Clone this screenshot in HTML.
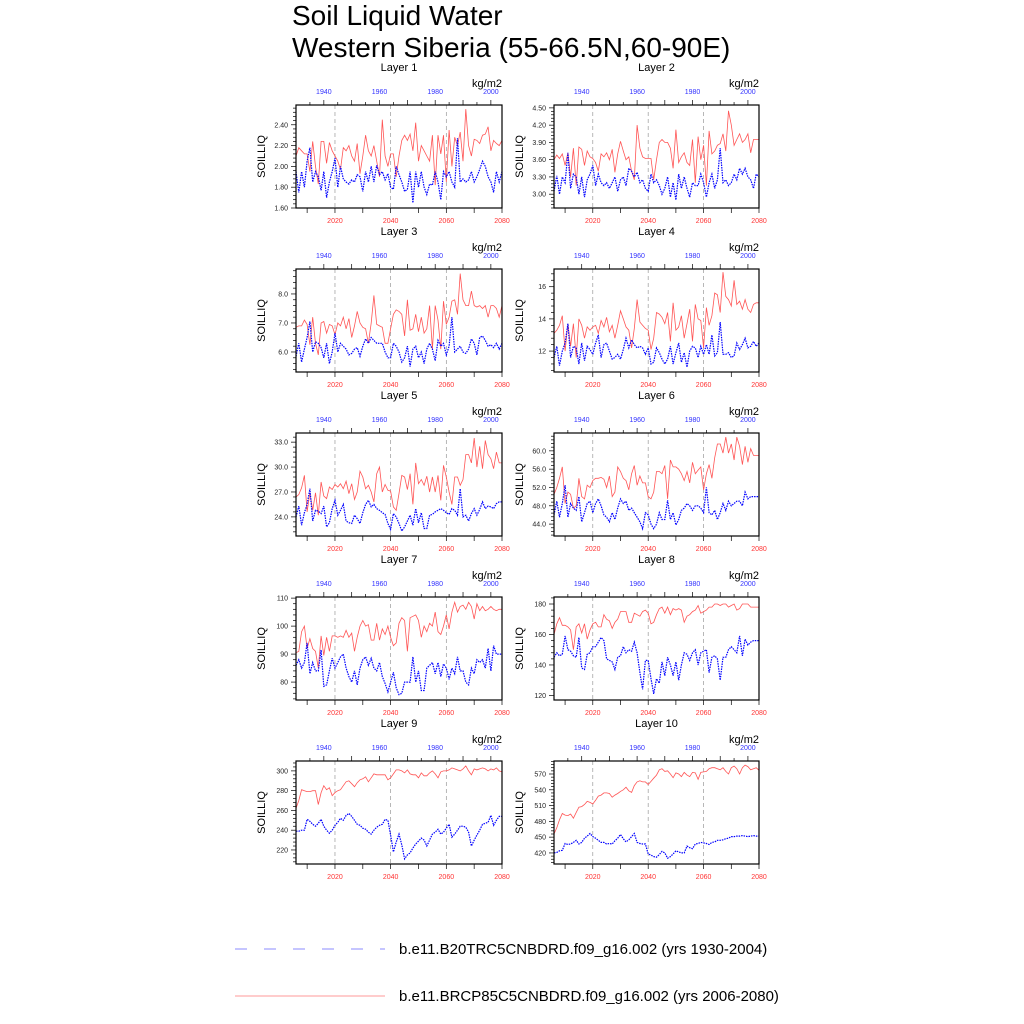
<!DOCTYPE html>
<html><head><meta charset="utf-8"><style>
html,body{margin:0;padding:0;background:#fff;}
svg{display:block;font-family:"Liberation Sans",sans-serif;}
</style></head><body>
<svg id="chart" width="1024" height="1024" viewBox="0 0 1024 1024" xmlns="http://www.w3.org/2000/svg">
<rect width="1024" height="1024" fill="#fff"/>
<text x="292" y="25" font-size="28">Soil Liquid Water</text>
<text x="292" y="57" font-size="28">Western Siberia (55-66.5N,60-90E)</text>
<g>
<line x1="235" y1="949" x2="385" y2="949" stroke="#66f" stroke-width="0.8" stroke-dasharray="12,17"/>
<text x="399" y="954" font-size="15">b.e11.B20TRC5CNBDRD.f09_g16.002 (yrs 1930-2004)</text>
<line x1="235" y1="996" x2="385" y2="996" stroke="#f77" stroke-width="0.8"/>
<text x="399" y="1001" font-size="15">b.e11.BRCP85C5CNBDRD.f09_g16.002 (yrs 2006-2080)</text>
</g>
<g id="panels"></g>
</svg>
<script>
const futureYears=[2006,2080];
const histYears=[1930,2004];
const bottomLabels=[2020,2040,2060,2080];
const topLabels=[1940,1960,1980,2000];
const dashedYears=[2020,2040,2060];
const layerNames=["Layer 1","Layer 2","Layer 3","Layer 4","Layer 5","Layer 6","Layer 7","Layer 8","Layer 9","Layer 10"];
const yRanges=[[1.6,2.59],[2.76,4.55],[5.31,8.86],[10.7,17.1],[21.7,34.1],[41.4,63.9],[73.6,110.4],[117,184.6],[205.8,310],[399,594.7]];
const yTicks=[[1.6,1.8,2.0,2.2,2.4],[3.0,3.3,3.6,3.9,4.2,4.5],[6,7,8],[12,14,16],[24,27,30,33],[44,48,52,56,60],[80,90,100,110],[120,140,160,180],[220,240,260,280,300],[420,450,480,510,540,570]];
const yDecimals=[2,2,1,0,1,1,0,0,0,0];
const red1=[2.10,2.18,2.15,2.12,2.12,1.95,2.24,2.00,1.83,2.24,2.24,2.03,2.23,2.15,2.10,2.05,1.97,2.18,2.15,2.20,2.10,2.05,2.22,1.93,2.10,2.30,2.15,2.10,2.20,2.05,1.90,2.45,2.10,2.00,2.12,2.12,1.90,2.10,2.25,2.30,2.25,2.31,2.15,2.42,2.05,2.20,2.15,2.10,2.05,2.30,1.82,2.30,2.12,2.30,1.85,2.35,2.00,2.28,2.20,2.33,2.05,2.55,2.20,2.10,2.26,2.25,2.22,2.30,2.31,2.38,2.15,2.25,2.22,2.20,2.25];
const blue1=[1.95,1.75,1.95,1.80,2.05,2.18,1.85,1.95,1.90,1.77,1.95,1.70,1.85,1.95,2.08,1.80,2.00,1.88,1.85,1.83,1.87,1.85,1.92,1.90,1.76,1.95,1.85,2.00,1.85,2.01,1.92,1.95,1.87,1.93,1.80,1.78,2.00,1.92,1.85,1.76,1.78,1.95,1.65,1.95,1.80,1.95,1.80,1.73,1.83,1.82,1.95,1.85,1.68,1.95,1.90,1.95,1.85,1.80,2.27,1.85,1.88,1.85,1.87,1.95,1.85,1.90,1.97,2.05,2.00,1.90,1.85,1.75,1.95,1.85,1.95];
const red2=[3.60,3.68,3.62,3.70,3.50,3.72,3.30,3.80,3.15,3.82,3.78,3.50,3.75,3.65,3.62,3.55,3.40,3.70,3.65,3.72,3.60,3.78,3.38,3.70,3.92,3.75,3.60,3.65,3.40,3.25,4.20,3.80,3.65,3.62,3.62,3.62,3.25,3.60,3.90,3.95,3.90,3.90,3.80,3.45,4.12,3.55,3.65,3.72,3.55,3.50,3.95,3.20,4.00,3.60,3.85,3.15,4.10,3.70,3.75,3.85,3.88,4.05,3.75,4.45,4.20,3.85,3.95,4.05,3.90,3.95,4.05,3.72,3.95,3.95,3.95];
const blue2=[3.05,3.32,3.00,3.30,3.20,3.72,3.10,3.35,3.30,3.00,3.30,2.95,3.25,3.35,3.50,3.15,3.35,3.20,3.15,3.20,3.10,3.20,3.30,3.05,3.25,3.30,3.15,3.45,3.40,3.30,3.38,3.20,3.25,3.10,3.05,3.35,3.20,3.25,3.15,3.00,3.10,3.30,2.95,3.20,2.90,3.35,3.10,3.30,3.10,2.95,3.20,3.15,3.15,3.35,3.20,2.95,3.20,3.35,3.10,3.25,3.80,3.20,3.25,3.15,3.20,3.35,3.25,3.45,3.35,3.45,3.30,3.25,3.10,3.35,3.30];
const red3=[6.85,6.90,6.90,7.10,6.95,6.25,7.20,6.30,5.90,7.00,7.05,6.65,6.95,6.90,6.60,7.00,6.90,7.20,6.80,7.15,6.50,6.90,7.40,7.00,6.85,6.80,6.30,7.00,7.95,6.95,6.90,6.85,6.30,6.30,6.80,7.30,7.45,7.40,7.30,6.55,7.80,6.75,6.80,7.30,6.70,7.20,6.65,6.80,7.60,6.10,7.60,7.10,6.10,7.75,6.95,7.20,7.75,7.80,7.30,8.70,7.80,7.60,7.60,8.10,7.60,7.55,7.60,7.50,7.60,7.20,7.60,7.60,7.50,7.20,7.60];
const blue3=[5.85,6.30,5.65,6.10,6.50,7.05,6.00,6.35,6.30,6.15,5.80,6.30,5.60,6.00,6.65,6.00,6.30,6.20,6.10,5.90,5.95,6.10,6.15,5.85,6.20,6.45,6.30,6.50,6.40,6.30,6.30,6.30,6.00,5.80,5.80,6.30,6.20,6.00,5.65,5.80,6.20,5.50,6.10,6.20,5.80,6.00,5.60,6.10,6.30,6.10,5.70,6.40,6.20,6.30,5.90,6.20,7.20,6.00,6.10,6.20,6.00,5.95,6.10,6.45,6.30,5.90,6.50,6.55,6.40,6.20,6.25,6.15,6.30,6.10,6.30];
const red4=[13.1,13.3,13.6,14.2,12.0,13.7,12.3,13.7,11.6,14.0,13.6,12.8,13.5,13.3,13.5,13.6,13.1,13.9,13.5,14.1,13.2,13.6,12.8,13.6,14.5,14.0,13.5,13.3,12.2,13.4,15.2,13.8,13.6,13.4,13.3,12.1,12.8,14.4,14.3,14.1,13.7,14.4,12.6,15.0,13.3,13.5,14.2,12.8,13.7,14.6,12.6,14.9,14.0,13.9,12.2,14.7,13.6,14.2,15.6,15.5,14.4,16.9,15.4,15.2,14.8,16.4,14.9,15.1,14.6,15.2,14.6,14.4,14.9,15.0,15.0];
const blue4=[11.6,12.3,11.1,12.0,12.5,13.7,11.6,12.3,12.2,11.2,12.5,11.4,12.3,12.1,11.8,12.5,13.0,11.6,12.4,12.5,12.0,11.5,11.6,11.8,11.5,12.1,12.8,12.2,12.7,12.4,12.2,12.3,12.2,11.8,12.2,11.2,11.3,12.2,11.9,11.5,11.2,11.5,12.3,11.2,11.9,12.5,11.3,11.9,11.0,12.0,12.3,12.2,11.6,12.3,11.8,12.4,11.8,13.0,11.7,11.9,13.8,11.8,11.8,11.9,11.6,11.7,12.5,12.1,12.4,12.8,12.2,12.3,12.6,12.3,12.5];
const red5=[26.4,26.7,27.5,29.0,24.6,26.9,24.8,26.9,24.2,28.2,26.5,26.2,27.6,27.3,27.9,27.6,28.0,27.4,28.3,26.8,28.0,26.1,27.0,29.5,28.8,27.4,27.8,27.0,25.8,29.2,30.0,27.0,27.9,27.2,27.1,25.2,24.8,26.8,29.0,28.8,27.3,29.2,25.5,30.5,28.0,28.5,27.8,28.9,27.0,28.8,27.0,29.0,26.0,30.2,28.8,27.0,25.5,28.8,28.8,27.8,28.5,31.5,31.5,30.5,33.5,30.0,32.5,29.8,33.2,31.5,31.0,29.8,31.8,30.5,30.5];
const blue5=[24.0,25.3,23.0,24.5,25.5,27.4,23.5,24.8,24.7,24.4,25.3,22.8,23.3,25.0,26.0,24.2,24.8,25.5,23.5,23.3,23.2,24.2,23.8,23.2,24.5,25.5,26.0,25.2,25.5,25.0,24.8,24.5,24.3,23.2,22.5,24.4,24.0,23.2,22.3,22.8,23.5,24.2,23.0,25.0,23.3,24.5,22.6,22.6,24.2,24.3,24.6,24.8,25.0,24.8,24.5,24.3,25.0,24.8,24.2,27.4,24.0,24.2,23.5,24.4,25.0,24.2,24.9,25.8,25.0,25.3,25.2,25.0,25.6,25.8,25.8];
const red6=[50.5,52.0,54.0,56.5,48.5,51.0,50.5,47.5,48.0,54.0,50.0,49.5,52.5,52.0,53.5,54.0,54.0,54.2,53.8,52.0,54.5,50.0,51.0,56.5,55.5,54.0,53.5,51.5,55.0,56.8,52.5,54.5,53.0,53.0,50.0,49.5,51.0,55.5,55.5,55.0,56.8,49.5,58.0,56.5,56.5,56.0,55.0,53.5,55.5,53.0,57.5,55.0,55.8,56.5,51.5,55.0,57.0,54.0,58.5,61.5,61.5,59.5,63.0,59.5,61.5,58.0,63.0,61.0,57.0,61.0,57.5,60.5,59.0,59.0,59.0];
const blue6=[46.0,49.0,45.5,48.5,52.5,45.5,48.5,47.5,47.0,50.0,44.5,46.5,48.5,49.0,46.5,48.5,49.5,48.0,46.0,45.5,44.5,46.5,45.0,47.5,49.5,48.5,49.0,47.0,47.5,46.5,45.5,44.5,43.0,46.5,46.0,44.0,43.0,44.0,46.5,45.0,45.0,49.2,45.0,46.5,43.8,45.0,47.0,47.5,48.5,48.0,47.0,48.0,48.0,47.5,46.5,52.0,46.5,46.0,47.0,45.0,46.5,48.5,47.0,49.0,48.0,48.5,49.0,49.0,48.0,51.0,49.5,50.0,50.0,50.0,50.0];
const red7=[90.5,91,98,100,92,95.5,92,91,85,96.5,89.5,96,91,96.5,96.5,96,96.5,96,98.5,96,97.5,91,96,100,102,100,100.5,95,95,101,95,99,97,100,96,93,94,101,103,102,91,103,103.5,104,102,96,100,98,101,100,105,98,97,100,104,99,105,108.5,105,107,107.5,106,108.5,107,102.5,108,105.5,107,105.5,106,107,106,105.5,106,106];
const blue7=[86,88,85,87,94,83,87,84,84,91.5,78.5,79,84,88.5,85,87,89,90,85,82,80,84,79,85,88,89,86,88.5,85,84,87,82,79.5,76.5,80,83.5,78,75.5,76,80,80,80,89,80,84,77,77,85,86,87,83,87,82,86.5,85,81,85,83,89,84,84,80,79,85,83,88,87,88,85,92,84,93,90,90,90];
const red8=[160,167,171,166,166,165,163,150,165,167,161,167,157,163,167,168,165,165,173,170,169,164,168,170,175,175,175,168,168,174,173,172,175,176,174,167,168,173,177,178,174,178,173,177,176,177,176,168,172,173,175,176,179,174,175,176,178,178,180,180,179,180,180,178,179,180,176,177,180,180,180,178,178,178,178];
const blue8=[145,148,146,147,159,150,149,146,145,158,138,137,147,148,152,152,155,158,156,144,143,142,137,145,146,152,148,150,149,155,148,135,124,143,143,131,121,131,128,142,133,145,140,133,142,130,140,148,147,143,148,150,140,148,149,150,135,145,146,144,130,145,145,150,152,150,148,159,146,157,153,155,156,156,156];
const red9=[262,270,281,280,279,279,280,280,266,278,285,281,283,275,278,280,281,285,289,290,287,284,288,291,292,294,289,293,297,296,296,296,296,291,293,297,301,301,300,298,301,297,296,296,293,298,295,295,298,300,297,293,299,300,300,301,303,302,301,300,302,305,300,296,302,301,302,303,302,300,302,301,303,300,299];
const blue9=[239,239,240,240,251,249,246,244,247,251,244,240,237,240,245,248,252,250,255,257,254,250,246,245,242,241,238,236,240,243,245,246,251,250,235,218,228,236,225,211,215,217,222,226,229,232,230,224,230,236,238,241,236,238,242,246,233,236,240,244,244,243,238,224,230,235,240,246,247,248,255,245,250,254,254];
const red10=[456,468,483,495,492,491,494,486,497,507,508,512,518,516,513,520,528,530,534,534,533,526,530,533,537,540,545,538,535,548,555,557,555,555,550,556,562,568,578,580,575,576,570,563,572,570,565,573,568,565,573,572,560,573,574,575,580,582,582,580,578,582,575,570,582,585,580,570,582,587,584,578,580,582,577];
const blue10=[420,421,424,425,438,436,437,440,444,437,440,448,452,457,451,448,444,440,440,437,438,437,443,448,455,447,441,445,451,457,440,438,437,437,418,416,413,412,417,423,420,410,413,418,424,422,420,420,433,430,428,437,438,440,439,438,436,440,441,444,444,445,447,448,451,451,452,452,453,452,451,452,453,452,452];
const redSeries=[red1,red2,red3,red4,red5,red6,red7,red8,red9,red10];
const blueSeries=[blue1,blue2,blue3,blue4,blue5,blue6,blue7,blue8,blue9,blue10];

const NS="http://www.w3.org/2000/svg";
const root=document.getElementById('panels');
function mk(tag,attrs,parent){const e=document.createElementNS(NS,tag);for(const k in attrs)e.setAttribute(k,attrs[k]);parent.appendChild(e);return e;}

for(let p=0;p<10;p++){
  const col=p%2,row=Math.floor(p/2);
  const x0=col===0?296:554, w=col===0?206:205;
  const y0=105+row*164, h=103;
  const g=mk('g',{},root);
  
  
  const [ymin,ymax]=yRanges[p];
  const sx=yr=>x0+(yr-futureYears[0])/(futureYears[1]-futureYears[0])*w;
  const sxh=yr=>x0+(yr-histYears[0])/(histYears[1]-histYears[0])*w;
  const sy=v=>y0+h-(v-ymin)/(ymax-ymin)*h;

  const t=mk('text',{x:x0+w/2,y:y0-34,'font-size':11,'text-anchor':'middle'},g);
  t.textContent=layerNames[p];
  
  
  const u=mk('text',{x:x0+w,y:y0-18,'font-size':11,'text-anchor':'end'},g);
  u.textContent='kg/m2';
  
  
  const yl=mk('text',{x:0,y:0,'font-size':11,'text-anchor':'middle',transform:`translate(${x0-31},${y0+h/2}) rotate(-90)`},g);
  yl.textContent='SOILLIQ';
  
  

  dashedYears.forEach(yr=>{
    const l=mk('line',{x1:sx(yr),x2:sx(yr),y1:y0,y2:y0+h,stroke:'#999','stroke-width':0.7,'stroke-dasharray':'4,3'},g);
    
    
  });

  const toPts=(arr,f)=>arr.map((v,i)=>f(i).toFixed(1)+','+sy(v).toFixed(1)).join(' ');
  const rl=mk('polyline',{points:toPts(redSeries[p],i=>sx(futureYears[0]+i)),fill:'none',stroke:'#f55','stroke-width':0.8},g);
  
  
  const bl=mk('polyline',{points:toPts(blueSeries[p],i=>sxh(histYears[0]+i)),fill:'none',stroke:'#00f','stroke-width':1.2,'stroke-dasharray':'1.5,1'},g);
  
  

  const fr=mk('rect',{x:x0,y:y0,width:w,height:h,fill:'none',stroke:'#000','stroke-width':1.2},g);
  
  

  const ticks=yTicks[p], step=ticks[1]-ticks[0];
  for(let v=ticks[0]-step;v<=ymax+1e-9;v+=step/5){
    if(v<ymin-1e-9)continue;
    const major=Math.abs((v-ticks[0])/step-Math.round((v-ticks[0])/step))<1e-6;
    mk('line',{x1:x0,x2:x0-(major?5:3),y1:sy(v),y2:sy(v),stroke:'#000','stroke-width':0.7},g);
  }
  ticks.forEach(v=>{
    const tl=mk('text',{x:x0-8,y:sy(v)+2.5,'font-size':7,'text-anchor':'end',fill:'#222'},g);
    tl.textContent=v.toFixed(yDecimals[p]);
    
    
  });
  for(let yr=2010;yr<=2080;yr+=10){
    mk('line',{x1:sx(yr),x2:sx(yr),y1:y0+h,y2:y0+h+5,stroke:'#000','stroke-width':0.7},g);
  }
  for(let yr=1935;yr<=2000;yr+=5){
    mk('line',{x1:sxh(yr),x2:sxh(yr),y1:y0,y2:y0-(yr%10===0?5:3),stroke:'#000','stroke-width':0.7},g);
  }
  bottomLabels.forEach(yr=>{
    const bt=mk('text',{x:sx(yr),y:y0+h+15,'font-size':7,'text-anchor':'middle',fill:'#f33'},g);
    bt.textContent=yr;
    
    
  });
  topLabels.forEach(yr=>{
    const tt=mk('text',{x:sxh(yr),y:y0-11,'font-size':7,'text-anchor':'middle',fill:'#33f'},g);
    tt.textContent=yr;
    
    
  });
}
</script>
</body></html>
